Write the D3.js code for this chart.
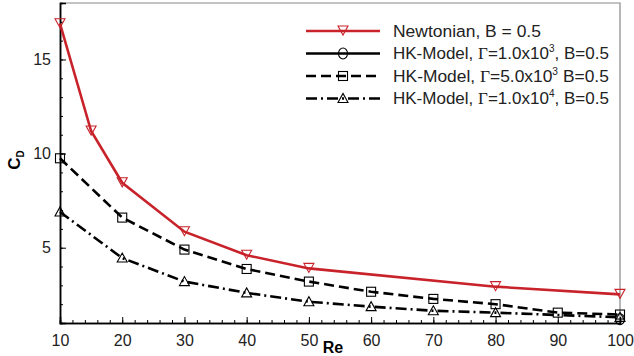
<!DOCTYPE html>
<html>
<head>
<script src="https://cdnjs.cloudflare.com/ajax/libs/d3/7.8.5/d3.min.js"></script>
<style>
  html, body { margin: 0; background: #fff; }
  svg { display: block; font-family: "Liberation Sans", Arial, sans-serif; }
</style>
</head>
<body>
<svg width="634" height="356" id="chart"></svg>
<script>
// data
var reNewt = [10, 15, 20, 30, 40, 50, 80, 100];
var cdNewt = [16.9, 11.2, 8.45, 5.85, 4.6, 3.9, 2.93, 2.52];

var reHK1 = [100];
var cdHK1 = [1.2];

var reHK5 = [10, 20, 30, 40, 50, 60, 70, 80, 90, 100];
var cdHK5 = [9.75, 6.6, 4.9, 3.87, 3.2, 2.66, 2.28, 2.0, 1.55, 1.45];

var reHK10 = [10, 20, 30, 40, 50, 60, 70, 80, 100];
var cdHK10 = [6.9, 4.45, 3.2, 2.6, 2.13, 1.87, 1.65, 1.55, 1.3];

var xTicks = [10, 20, 30, 40, 50, 60, 70, 80, 90, 100];
var yTicks = [5, 10, 15];

var series = [
  { name: "Newtonian, B = 0.5", x: reNewt, y: cdNewt, color: "#c8222a", dash: null, marker: "tridown" },
  { name: ["HK-Model, ", "Γ", "=1.0x10", "3", ", B=0.5"], x: reHK1, y: cdHK1, color: "#000", dash: null, marker: "circle" },
  { name: ["HK-Model, ", "Γ", "=5.0x10", "3", " B=0.5"], x: reHK5, y: cdHK5, color: "#000", dash: "10,5", marker: "square" },
  { name: ["HK-Model, ", "Γ", "=1.0x10", "4", ", B=0.5"], x: reHK10, y: cdHK10, color: "#000", dash: "11,4,2,4", marker: "triup" }
];

var svg = d3.select("#chart");
var pLeft = 60, pRight = 620, pTop = 3, pBottom = 323;

var x = d3.scaleLinear().domain([10, 100]).range([pLeft, pRight]);
var y = d3.scaleLinear().domain([1, 18]).range([pBottom, pTop]);

// frame (top/right)
svg.append("path")
  .attr("d", "M" + pLeft + "," + pTop + "H" + pRight + "V" + pBottom)
  .attr("fill", "none").attr("stroke", "#888").attr("stroke-width", 1.2);

// minor ticks
var xMinor = svg.append("g").attr("transform", "translate(0," + pBottom + ")")
  .call(d3.axisBottom(x).tickValues(d3.range(10, 101, 2)).tickSize(-3).tickFormat(""));
var yMinor = svg.append("g").attr("transform", "translate(" + pLeft + ",0)")
  .call(d3.axisLeft(y).tickValues(d3.range(1, 18.01, 1)).tickSize(-3).tickFormat(""));

var xAxis = svg.append("g").attr("transform", "translate(0," + pBottom + ")")
  .call(d3.axisBottom(x).tickValues(xTicks).tickSize(-6).tickPadding(12));
var yAxis = svg.append("g").attr("transform", "translate(" + pLeft + ",0)")
  .call(d3.axisLeft(y).tickValues(yTicks).tickSize(-6).tickPadding(9));

[xMinor, yMinor, xAxis, yAxis].forEach(function(g) {
  g.selectAll(".domain").attr("stroke", "#000").attr("stroke-width", 1.5);
  g.selectAll(".tick line").attr("stroke", "#000").attr("stroke-width", 1);
  g.selectAll("text").attr("font-size", 16).attr("fill", "#222")
    .attr("font-family", "Liberation Sans, Arial, sans-serif");
});

// axis titles
svg.append("text").attr("x", 333).attr("y", 353).attr("text-anchor", "middle")
  .attr("font-size", 16).attr("font-weight", "bold").text("Re");

var yt = svg.append("text").attr("transform", "translate(20,160) rotate(-90)")
  .attr("text-anchor", "middle").attr("font-size", 17).attr("font-weight", "bold");
yt.append("tspan").text("C");
yt.append("tspan").attr("font-size", 10).attr("dy", 4).text("D");

// marker shapes
var symbols = {
  tridown: function(g) {
    g.append("path").attr("d", "M-5,-5L5,-5L0,4Z");
  },
  triup: function(g) {
    g.append("path").attr("d", "M-5,4L5,4L0,-5Z");
  },
  square: function(g) {
    g.append("rect").attr("x", -4.5).attr("y", -4.5).attr("width", 9).attr("height", 9);
  },
  circle: function(g) {
    g.append("ellipse").attr("rx", 4.5).attr("ry", 5.5);
  }
};

function drawMarker(parent, s, px, py) {
  var g = parent.append("g").attr("transform", "translate(" + px + "," + py + ")")
    .attr("fill", "none").attr("stroke", s.color).attr("stroke-width", 1.1);
  symbols[s.marker](g);
}

var line = d3.line().x(function(d) { return x(d[0]); }).y(function(d) { return y(d[1]); });

// draw black series first, red on top
[3, 2, 1, 0].forEach(function(i) {
  var s = series[i];
  var pts = s.x.map(function(v, j) { return [v, s.y[j]]; });
  svg.append("path").datum(pts).attr("d", line)
    .attr("fill", "none").attr("stroke", s.color).attr("stroke-width", 2.6)
    .attr("stroke-dasharray", s.dash);
  pts.forEach(function(p) { drawMarker(svg, s, x(p[0]), y(p[1])); });
});

// legend
var legend = svg.append("g");
series.forEach(function(s, i) {
  var ly = 31 + i * 22.5;
  legend.append("line").attr("x1", 306).attr("x2", 380).attr("y1", ly).attr("y2", ly)
    .attr("stroke", s.color).attr("stroke-width", 2.6).attr("stroke-dasharray", s.dash);
  drawMarker(legend, s, 343, ly);
  var t = legend.append("text").attr("x", 393).attr("y", ly + 6)
    .attr("font-size", 17).attr("fill", "#222");
  if (typeof s.name === "string") {
    t.text(s.name);
  } else {
    t.append("tspan").text(s.name[0]);
    t.append("tspan").attr("font-family", "Liberation Serif, serif").text(s.name[1]);
    t.append("tspan").text(s.name[2]);
    t.append("tspan").attr("font-size", 10).attr("dy", -7).text(s.name[3]);
    t.append("tspan").attr("dy", 7).text(s.name[4]);
  }
  // fit text to the condensed width seen in the picture
  var target = i === 0 ? 148 : 216;
  var w = t.node().getComputedTextLength();
  t.attr("transform", "translate(393,0) scale(" + (target / w) + ",1) translate(-393,0)");
});
</script>
</body>
</html>
